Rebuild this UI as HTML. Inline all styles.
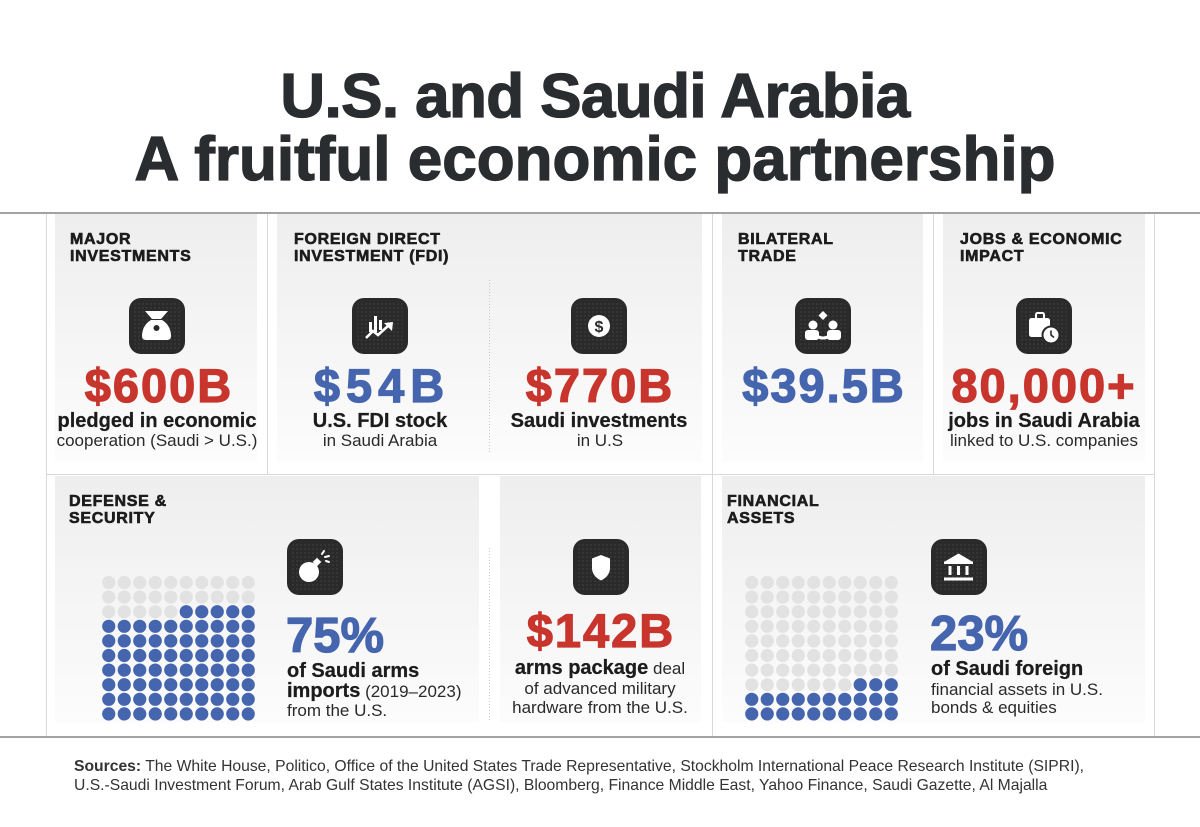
<!DOCTYPE html>
<html><head><meta charset="utf-8"><style>
html,body{margin:0;padding:0;background:#fff;}
svg{display:block;font-family:"Liberation Sans",Arial,sans-serif;}
.h{font-size:16px;font-weight:bold;fill:#1c1c1c;stroke:#1c1c1c;stroke-width:0.6px;letter-spacing:0.7px;}
.big{font-size:47px;font-weight:bold;letter-spacing:2px;stroke-width:1.2px;}
.b{font-size:20px;font-weight:bold;fill:#1c1c1c;stroke:#1c1c1c;stroke-width:0.25px;}
.r{font-size:17px;font-weight:normal;fill:#2a2a2a;stroke:none;}
.red{fill:#c8352d;stroke:#c8352d;}
.blue{fill:#4565ae;stroke:#4565ae;}
.src{font-size:15.7px;fill:#333;}
</style></head><body>
<svg width="1200" height="827" viewBox="0 0 1200 827" xmlns="http://www.w3.org/2000/svg">
<defs>
<linearGradient id="pg" x1="0" y1="0" x2="0" y2="1"><stop offset="0" stop-color="#eeeeee"/><stop offset="1" stop-color="#fcfcfc"/></linearGradient>
<pattern id="dp" width="4" height="4" patternUnits="userSpaceOnUse"><circle cx="2" cy="2" r="0.6" fill="#505050"/></pattern>
<g id="ib"><rect width="56" height="56" rx="12" fill="#2a2a2a"/><rect x="3" y="3" width="50" height="50" rx="10" fill="url(#dp)"/></g>
<g id="r10"><circle cx="6.75" cy="6.5" r="6.6"/><circle cx="22.25" cy="6.5" r="6.6"/><circle cx="37.75" cy="6.5" r="6.6"/><circle cx="53.25" cy="6.5" r="6.6"/><circle cx="68.75" cy="6.5" r="6.6"/><circle cx="84.25" cy="6.5" r="6.6"/><circle cx="99.75" cy="6.5" r="6.6"/><circle cx="115.25" cy="6.5" r="6.6"/><circle cx="130.75" cy="6.5" r="6.6"/><circle cx="146.25" cy="6.5" r="6.6"/></g>
<g id="r5"><circle cx="6.75" cy="6.5" r="6.6"/><circle cx="22.25" cy="6.5" r="6.6"/><circle cx="37.75" cy="6.5" r="6.6"/><circle cx="53.25" cy="6.5" r="6.6"/><circle cx="68.75" cy="6.5" r="6.6"/></g>
<g id="r3"><circle cx="6.75" cy="6.5" r="6.6"/><circle cx="22.25" cy="6.5" r="6.6"/><circle cx="37.75" cy="6.5" r="6.6"/></g>
<g id="r2"><circle cx="6.75" cy="6.5" r="6.6"/><circle cx="22.25" cy="6.5" r="6.6"/></g>
</defs>

<!-- Title -->
<text x="595" y="117" text-anchor="middle" font-size="62" font-weight="bold" fill="#2a2d30" stroke="#2a2d30" stroke-width="1.3" letter-spacing="-0.6">U.S. and Saudi Arabia</text>
<text x="595" y="180" text-anchor="middle" font-size="62" font-weight="bold" fill="#2a2d30" stroke="#2a2d30" stroke-width="1.3">A fruitful economic partnership</text>

<!-- Panels -->
<rect x="55" y="214" width="202" height="248" fill="url(#pg)"/>
<rect x="277" y="214" width="425" height="248" fill="url(#pg)"/>
<rect x="722" y="214" width="201" height="248" fill="url(#pg)"/>
<rect x="943" y="214" width="202" height="248" fill="url(#pg)"/>
<rect x="55" y="476" width="424" height="246" fill="url(#pg)"/>
<rect x="500" y="476" width="201" height="246" fill="url(#pg)"/>
<rect x="722" y="476" width="423" height="246" fill="url(#pg)"/>

<!-- Lines -->
<rect x="0" y="212" width="1200" height="2" fill="#a3a3a3"/>
<rect x="0" y="736" width="1200" height="2" fill="#a3a3a3"/>
<g fill="#d8d8d8">
<rect x="46" y="214" width="1" height="522"/>
<rect x="267" y="214" width="1" height="260"/>
<rect x="712" y="214" width="1" height="522"/>
<rect x="933" y="214" width="1" height="260"/>
<rect x="1154" y="214" width="1" height="522"/>
<rect x="46" y="474" width="1109" height="1"/>
</g>
<line x1="489.5" y1="280" x2="489.5" y2="452" stroke="#c8c8c8" stroke-width="1" stroke-dasharray="1 2"/>
<line x1="489.5" y1="548" x2="489.5" y2="720" stroke="#c8c8c8" stroke-width="1" stroke-dasharray="1 2"/>

<!-- Headings -->
<text class="h" x="70" y="244">MAJOR</text><text class="h" x="70" y="261">INVESTMENTS</text>
<text class="h" x="294" y="244">FOREIGN DIRECT</text><text class="h" x="294" y="261">INVESTMENT (FDI)</text>
<text class="h" x="738" y="244">BILATERAL</text><text class="h" x="738" y="261">TRADE</text>
<text class="h" x="960" y="244">JOBS &amp; ECONOMIC</text><text class="h" x="960" y="261">IMPACT</text>
<text class="h" x="69" y="506">DEFENSE &amp;</text><text class="h" x="69" y="523">SECURITY</text>
<text class="h" x="727" y="506">FINANCIAL</text><text class="h" x="727" y="523">ASSETS</text>

<!-- Icon 1: money bag -->
<g transform="translate(129,298)">
<use href="#ib"/>
<polygon points="16,13 39,13 32,21 23,21" fill="#fff"/>
<path d="M22 22 H33 C40 26 42 33 42 38 Q42 42 38 42 H17 Q13 42 13 38 C13 33 15 26 22 22 Z" fill="#fff"/>
<circle cx="27.5" cy="30" r="3" fill="#2a2a2a"/>
</g>
<!-- Icon 2: FDI chart -->
<g transform="translate(352,298)">
<use href="#ib"/>
<rect x="17" y="24" width="3" height="10" fill="#fff"/>
<rect x="22" y="18" width="3" height="16" fill="#fff"/>
<rect x="27" y="22" width="3" height="10" fill="#fff"/>
<polyline points="14,40 21,33 26,37 36,28" fill="none" stroke="#fff" stroke-width="2.6"/>
<polygon points="32,25 41,24 40,33" fill="#fff"/>
</g>
<!-- Icon 3: dollar -->
<g transform="translate(571,298)">
<use href="#ib"/>
<circle cx="28" cy="28" r="11" fill="#fff"/>
<text x="28" y="34" text-anchor="middle" font-size="16" font-weight="bold" fill="#2a2a2a">$</text>
</g>
<!-- Icon 4: bilateral -->
<g transform="translate(795,298)">
<use href="#ib"/>
<polygon points="28,13 32.5,17.5 28,22 23.5,17.5" fill="#fff"/>
<circle cx="18" cy="27" r="4.5" fill="#fff"/>
<circle cx="38" cy="27" r="4.5" fill="#fff"/>
<rect x="10" y="32" width="14" height="10" rx="3" fill="#fff"/>
<rect x="32" y="32" width="14" height="10" rx="3" fill="#fff"/>
<path d="M20 37 Q28 43 36 37" fill="none" stroke="#fff" stroke-width="3"/>
</g>
<!-- Icon 5: briefcase clock -->
<g transform="translate(1016,298)">
<use href="#ib"/>
<rect x="20" y="15" width="8" height="6" rx="1.5" fill="none" stroke="#fff" stroke-width="2"/>
<rect x="13" y="20" width="21" height="19" rx="2.5" fill="#fff"/>
<circle cx="35" cy="37" r="8.5" fill="#fff" stroke="#2a2a2a" stroke-width="2"/>
<path d="M35 32.5 V37 L38 39.5" fill="none" stroke="#2a2a2a" stroke-width="1.6"/>
</g>
<!-- Icon 6: bomb -->
<g transform="translate(287,539)">
<use href="#ib"/>
<circle cx="22" cy="33" r="10" fill="#fff"/>
<rect x="27" y="20" width="6" height="6" fill="#fff" transform="rotate(45 30 23)"/>
<path d="M35 15 L37 12 M38 18 L42 17 M39 22 L42 23" stroke="#fff" stroke-width="2" stroke-linecap="round"/>
</g>
<!-- Icon 7: shield -->
<g transform="translate(573,539)">
<use href="#ib"/>
<path d="M28 16 L37 19.5 V29 C37 35 33 39 28 41.5 C23 39 19 35 19 29 V19.5 Z" fill="#fff"/>
</g>
<!-- Icon 8: bank -->
<g transform="translate(931,539)">
<use href="#ib"/>
<polygon points="13,23 27.5,14.5 42,23" fill="#fff"/>
<rect x="13" y="22.5" width="29" height="2.5" fill="#fff"/>
<rect x="17.5" y="27" width="3" height="9" fill="#fff"/>
<rect x="26" y="27" width="3" height="9" fill="#fff"/>
<rect x="34.5" y="27" width="3" height="9" fill="#fff"/>
<rect x="13" y="38.5" width="29" height="3" fill="#fff"/>
</g>

<!-- Top row numbers -->
<text class="big red" x="159" y="402" text-anchor="middle">$600B</text>
<text class="b" x="157" y="427" text-anchor="middle">pledged in economic</text>
<text class="r" x="157" y="446" text-anchor="middle">cooperation (Saudi &gt; U.S.)</text>

<text class="big blue" x="382" y="402" text-anchor="middle" style="letter-spacing:6px">$54B</text>
<text class="b" x="380" y="427" text-anchor="middle">U.S. FDI stock</text>
<text class="r" x="380" y="446" text-anchor="middle">in Saudi Arabia</text>

<text class="big red" x="600" y="402" text-anchor="middle">$770B</text>
<text class="b" x="599" y="427" text-anchor="middle">Saudi investments</text>
<text class="r" x="600" y="446" text-anchor="middle">in U.S</text>

<text class="big blue" x="824" y="402" text-anchor="middle">$39.5B</text>

<text class="big red" x="1044" y="402" text-anchor="middle">80,000+</text>
<text class="b" x="1044" y="427" text-anchor="middle">jobs in Saudi Arabia</text>
<text class="r" x="1044" y="446" text-anchor="middle">linked to U.S. companies</text>

<!-- Defense dots -->
<use href="#r10" x="102" y="576" fill="#e2e2e2"/>
<use href="#r10" x="102" y="590.6" fill="#e2e2e2"/>
<use href="#r5" x="102" y="605.2" fill="#e2e2e2"/>
<use href="#r5" x="179.5" y="605.2" fill="#4565ae"/>
<use href="#r10" x="102" y="619.8" fill="#4565ae"/>
<use href="#r10" x="102" y="634.4" fill="#4565ae"/>
<use href="#r10" x="102" y="649" fill="#4565ae"/>
<use href="#r10" x="102" y="663.6" fill="#4565ae"/>
<use href="#r10" x="102" y="678.2" fill="#4565ae"/>
<use href="#r10" x="102" y="692.8" fill="#4565ae"/>
<use href="#r10" x="102" y="707.4" fill="#4565ae"/>

<!-- Financial dots -->
<use href="#r10" x="745" y="576" fill="#e2e2e2"/>
<use href="#r10" x="745" y="590.6" fill="#e2e2e2"/>
<use href="#r10" x="745" y="605.2" fill="#e2e2e2"/>
<use href="#r10" x="745" y="619.8" fill="#e2e2e2"/>
<use href="#r10" x="745" y="634.4" fill="#e2e2e2"/>
<use href="#r10" x="745" y="649" fill="#e2e2e2"/>
<use href="#r10" x="745" y="663.6" fill="#e2e2e2"/>
<use href="#r5" x="745" y="678.2" fill="#e2e2e2"/>
<use href="#r2" x="822.5" y="678.2" fill="#e2e2e2"/>
<use href="#r3" x="853.5" y="678.2" fill="#4565ae"/>
<use href="#r10" x="745" y="692.8" fill="#4565ae"/>
<use href="#r10" x="745" y="707.4" fill="#4565ae"/>

<!-- Bottom row text -->
<text class="blue" x="286" y="652" font-size="49" font-weight="bold" stroke-width="1.2">75%</text>
<text class="b" x="287" y="677">of Saudi arms</text>
<text x="287" y="697"><tspan class="b">imports</tspan><tspan class="r"> (2019–2023)</tspan></text>
<text class="r" x="287" y="716">from the U.S.</text>

<text class="big red" x="601" y="647" text-anchor="middle">$142B</text>
<text x="600" y="674" text-anchor="middle"><tspan class="b">arms package</tspan><tspan class="r"> deal</tspan></text>
<text class="r" x="600" y="694" text-anchor="middle">of advanced military</text>
<text class="r" x="600" y="713" text-anchor="middle">hardware from the U.S.</text>

<text class="blue" x="930" y="650" font-size="49" font-weight="bold" stroke-width="1.2">23%</text>
<text class="b" x="931" y="675">of Saudi foreign</text>
<text class="r" x="931" y="695">financial assets in U.S.</text>
<text class="r" x="931" y="713">bonds &amp; equities</text>

<!-- Sources -->
<text class="src" x="74" y="771"><tspan font-weight="bold">Sources:</tspan> The White House, Politico, Office of the United States Trade Representative, Stockholm International Peace Research Institute (SIPRI),</text>
<text class="src" x="74" y="790">U.S.-Saudi Investment Forum, Arab Gulf States Institute (AGSI), Bloomberg, Finance Middle East, Yahoo Finance, Saudi Gazette, Al Majalla</text>
</svg>
</body></html>
